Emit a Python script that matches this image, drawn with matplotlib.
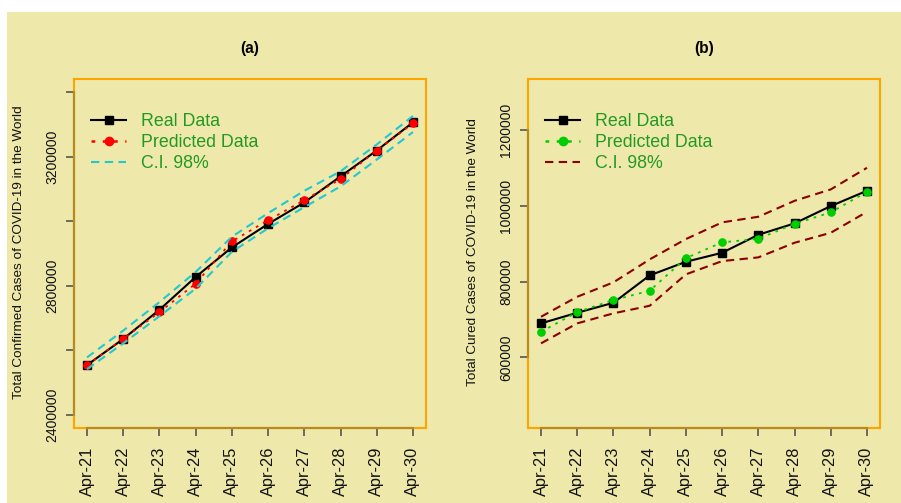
import matplotlib
matplotlib.use("Agg")
import matplotlib.pyplot as plt
from matplotlib.patches import Rectangle
from matplotlib.lines import Line2D

plt.rcParams['font.family'] = ['Liberation Sans', 'DejaVu Sans']

dates = ['Apr-21', 'Apr-22', 'Apr-23', 'Apr-24', 'Apr-25',
         'Apr-26', 'Apr-27', 'Apr-28', 'Apr-29', 'Apr-30']

conf_real = [2554700, 2635600, 2725900, 2827400, 2918900,
             2991500, 3058000, 3138700, 3218700, 3305900]
conf_pred = [2554700, 2636000, 2718500, 2806800, 2937600,
             3002900, 3065200, 3130600, 3218700, 3302800]
conf_upper = [2578400, 2661500, 2749600, 2843000, 2952000,
              3024800, 3094200, 3154300, 3237400, 3325500]
conf_lower = [2542300, 2622000, 2706000, 2791300, 2905200,
              2978000, 3043400, 3107600, 3190700, 3275700]

cured_real = [689700, 717700, 744000, 816300, 852200,
              876000, 923500, 953500, 999200, 1039600]
cured_pred = [667500, 719500, 751200, 775700, 862000,
              903400, 912900, 952400, 982500, 1036900]
cured_upper = [707100, 759900, 797900, 858500, 912100,
               956200, 971000, 1013100, 1043200, 1100200]
cured_lower = [636900, 689700, 716100, 736100, 819000,
               854000, 863800, 902400, 928700, 984100]

conf_ticks = [2400000, 2600000, 2800000, 3000000, 3200000, 3400000]
conf_ticklabels = ['2400000', '', '2800000', '', '3200000', '']
cured_ticks = [600000, 800000, 1000000, 1200000]
cured_ticklabels = ['600000', '800000', '1000000', '1200000']

legend_labels = ['Real Data', 'Predicted Data', 'C.I. 98%']

BG = '#EEE8AA'
BOX = '#FFA500'
AXLINE = '#B88A20'
TICKC = '#555555'
LEGTXT = '#229922'

W, H = 901, 503
fig = plt.figure(figsize=(W / 100, H / 100), dpi=100, facecolor='white')
fig.patches.append(Rectangle((7 / W, 0), 1 - 7 / W, 1 - 12 / H,
                             transform=fig.transFigure, facecolor=BG,
                             edgecolor='none', zorder=-10))

def make_axes(left_px):
    return fig.add_axes([left_px / W, 1 - 428 / H, 352 / W, 349 / H])

axA = make_axes(74)
axB = make_axes(528)

x = list(range(len(dates)))

def style(ax, ylim, ticks, ticklabels, ylabel, title):
    ax.set_facecolor('none')
    ax.set_xlim(-0.36, 9.36)
    ax.set_ylim(*ylim)
    for s in ax.spines.values():
        s.set_color(BOX)
        s.set_linewidth(1.5)
    # R-style axis lines spanning first to last tick
    ax.plot([0, 9], [ylim[0], ylim[0]], color=AXLINE, lw=1.6,
            clip_on=False, zorder=3)
    ax.plot([-0.36, -0.36], [ticks[0], ticks[-1]], color=AXLINE, lw=1.6,
            clip_on=False, zorder=3)
    ax.set_xticks(x)
    ax.set_xticklabels(dates, rotation=90, fontsize=11.8)
    ax.set_yticks(ticks)
    ax.set_yticklabels(ticklabels, rotation=90, va='center', fontsize=10)
    ax.tick_params(axis='both', direction='out', length=5.5, width=1.2,
                   color=TICKC, labelcolor='#111111')
    ax.tick_params(axis='x', pad=8)
    ax.tick_params(axis='y', pad=5)
    ax.set_ylabel(ylabel, fontsize=9.7, color='#111111')
    ax.yaxis.set_label_coords(-0.138, 0.503)
    ax.text(0.5, 1 + 30 / 349, title, transform=ax.transAxes, ha='center',
            va='center', fontsize=11.2, fontweight='bold')

style(axA, (2360000, 3440000), conf_ticks, conf_ticklabels,
      'Total Confirmed Cases of COVID-19 in the World', '(a)')
style(axB, (413500, 1334600), cured_ticks, cured_ticklabels,
      'Total Cured Cases of COVID-19 in the World', '(b)')

def draw(ax, real, pred, up, lo, pred_color, ci_color):
    ax.plot(x, real, color='black', lw=1.5, marker='s', markersize=5.2,
            zorder=4)
    ax.plot(x, pred, color=pred_color, lw=1.3, linestyle=(0, (1.5, 3)),
            marker='o', markersize=5.2, zorder=5)
    ax.plot(x, up, color=ci_color, lw=1.5, linestyle=(0, (4, 2.6)), zorder=6)
    ax.plot(x, lo, color=ci_color, lw=1.5, linestyle=(0, (4, 2.6)), zorder=6)
    handles = [
        Line2D([], [], color='black', lw=1.5, marker='s', markersize=6),
        Line2D([], [], color=pred_color, lw=1.8, linestyle=(0, (1.5, 3)),
               marker='o', markersize=6),
        Line2D([], [], color=ci_color, lw=1.5, linestyle=(0, (4, 2.6))),
    ]
    leg = ax.legend(handles, legend_labels, loc='upper left',
                    bbox_to_anchor=(17 / 352, 1 - 34 / 349), frameon=False,
                    borderpad=0, borderaxespad=0, fontsize=12.8,
                    handlelength=1.97, handletextpad=0.85, labelspacing=0.22)
    for t in leg.get_texts():
        t.set_color(LEGTXT)

draw(axA, conf_real, conf_pred, conf_upper, conf_lower, 'red', '#22C8D0')
draw(axB, cured_real, cured_pred, cured_upper, cured_lower, '#00CD00', '#8B0000')

fig.savefig('out.png', dpi=100, facecolor='white')
